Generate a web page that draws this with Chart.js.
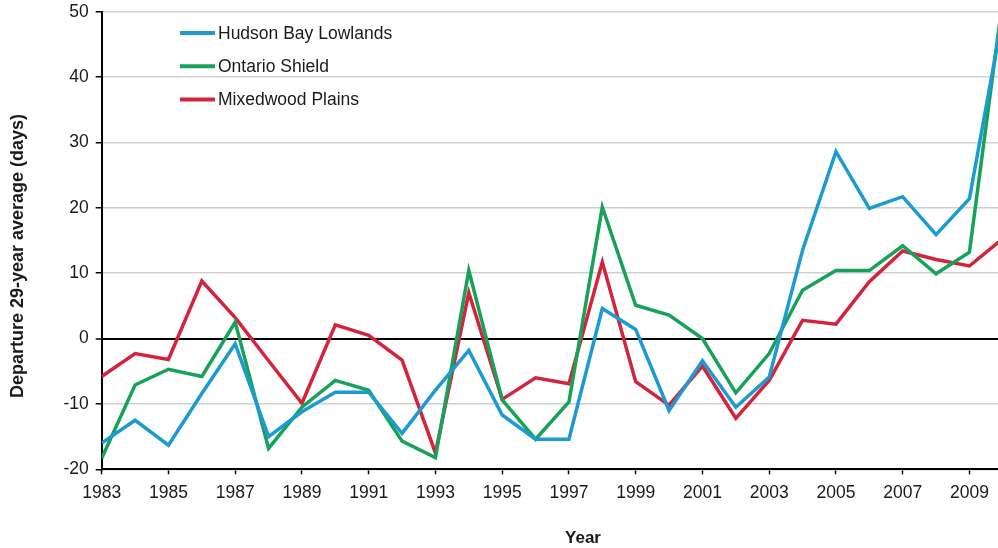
<!DOCTYPE html>
<html>
<head>
<meta charset="utf-8">
<script src="https://cdn.jsdelivr.net/npm/chart.js@4.4.1/dist/chart.umd.min.js"></script>
<style>
  html, body { margin: 0; padding: 0; background: #fff; overflow: hidden; }
  #wrap { width: 1012px; height: 548px; }
</style>
</head>
<body>
<div id="wrap"><canvas id="myChart"></canvas></div>
<script>
var years = [1983, 1984, 1985, 1986, 1987, 1988, 1989, 1990, 1991, 1992, 1993, 1994, 1995, 1996,
  1997, 1998, 1999, 2000, 2001, 2002, 2003, 2004, 2005, 2006, 2007, 2008, 2009, 2010];
var hudsonBay = [-16.0, -12.5, -16.3, -8.4, -0.8, -15.0, -11.2, -8.2, -8.2, -14.5, -7.9, -1.8, -11.7, -15.4,
  -15.4, 4.6, 1.4, -11.0, -3.4, -10.5, -5.9, 13.5, 28.6, 19.9, 21.7, 15.9, 21.4, 49.5];
var ontarioShield = [-18.3, -7.1, -4.7, -5.8, 2.5, -16.8, -10.5, -6.4, -7.9, -15.7, -18.2, 10.4, -9.4, -15.4,
  -9.7, 20.1, 5.1, 3.6, 0.0, -8.3, -2.3, 7.4, 10.4, 10.4, 14.2, 9.9, 13.2, 52.0];
var mixedwood = [-5.8, -2.3, -3.2, 8.8, 3.2, -3.4, -9.9, 2.1, 0.5, -3.3, -17.5, 7.0, -9.3, -6.0,
  -6.9, 11.7, -6.6, -10.2, -4.2, -12.2, -6.4, 2.8, 2.2, 8.7, 13.4, 12.1, 11.1, 15.3];
var xTicks = [1983, 1985, 1987, 1989, 1991, 1993, 1995, 1997, 1999, 2001, 2003, 2005, 2007, 2009];
var yTicks = [-20, -10, 0, 10, 20, 30, 40, 50];

var font = '"Liberation Sans", Arial, sans-serif';

// legend + axis titles drawn by hand, legend sits inside the plot
var extras = {
  id: 'extras',
  afterDraw: function (chart) {
    var ctx = chart.ctx;
    ctx.save();
    ctx.font = '17.5px ' + font;
    ctx.textBaseline = 'middle';
    ctx.fillStyle = '#1a1a1a';
    chart.data.datasets.forEach(function (ds, i) {
      var y = 33 + i * 33.2;
      ctx.strokeStyle = ds.borderColor;
      ctx.lineWidth = 4;
      ctx.beginPath();
      ctx.moveTo(180, y);
      ctx.lineTo(215, y);
      ctx.stroke();
      ctx.fillText(ds.label, 218, y + 1);
    });
    ctx.font = 'bold 17px ' + font;
    ctx.textAlign = 'center';
    ctx.fillText('Year', 583, 538);
    ctx.font = 'bold 18px ' + font;
    ctx.translate(18, 256);
    ctx.rotate(-Math.PI / 2);
    ctx.fillText('Departure 29-year average (days)', 0, 0);
    ctx.restore();
  }
};

var data = {
  labels: years,
  datasets: [{
    label: 'Hudson Bay Lowlands',
    data: hudsonBay,
    borderColor: '#1b9bd1'
  }, {
    label: 'Ontario Shield',
    data: ontarioShield,
    borderColor: '#17a25a'
  }, {
    label: 'Mixedwood Plains',
    data: mixedwood,
    borderColor: '#d4243c'
  }]
};

new Chart(document.getElementById('myChart'), {
  type: 'line',
  data: data,
  plugins: [extras],
  options: {
    responsive: true,
    maintainAspectRatio: false,
    animation: false,
    events: [],
    layout: { padding: { top: 11.7, right: 9.2, left: 0, bottom: 0 } },
    elements: {
      line: { borderWidth: 3.5, tension: 0 },
      point: { radius: 0 }
    },
    plugins: { legend: { display: false }, tooltip: { enabled: false } },
    scales: {
      x: {
        type: 'linear',
        min: 1983,
        max: 2010,
        afterBuildTicks: function (scale) {
          scale.ticks = xTicks.map(function (v) { return { value: v }; });
        },
        afterFit: function (scale) {
          scale.height = 78.7;
          scale.paddingLeft = 0;
          scale.paddingRight = 0;
        },
        border: { color: '#000', width: 2 },
        grid: { drawOnChartArea: false, tickLength: 5, tickColor: '#000', tickWidth: 1.5 },
        ticks: {
          color: '#1a1a1a',
          font: { family: font, size: 17.5 },
          padding: 8,
          maxRotation: 0,
          autoSkip: false,
          callback: function (v) { return String(v); }
        }
      },
      y: {
        min: -20,
        max: 50,
        afterBuildTicks: function (scale) {
          scale.ticks = yTicks.map(function (v) { return { value: v }; });
        },
        afterFit: function (scale) {
          scale.width = 101.7;
          scale.paddingTop = 0;
          scale.paddingBottom = 0;
        },
        border: { color: '#000', width: 2 },
        grid: {
          color: function (c) { return c.tick && c.tick.value === 0 ? '#000' : '#cfcfcf'; },
          lineWidth: function (c) { return c.tick && c.tick.value === 0 ? 2 : 1.5; },
          tickLength: 6,
          tickColor: '#000',
          tickWidth: 1.5
        },
        ticks: {
          color: '#1a1a1a',
          font: { family: font, size: 17.5 },
          padding: 7
        }
      }
    }
  }
});
</script>
</body>
</html>
